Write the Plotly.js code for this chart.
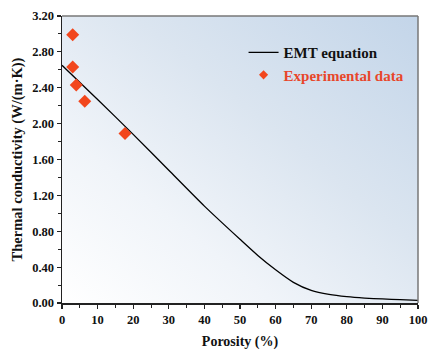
<!DOCTYPE html>
<html><head><meta charset="utf-8">
<script src="https://cdn.plot.ly/plotly-3.0.1.min.js"></script>
<style>
html,body{margin:0;padding:0;background:#fff;}
#wrap{position:relative;width:436px;height:355px;}
#bg{position:absolute;left:62px;top:16px;width:356px;height:287px;
background:linear-gradient(to top right,#ffffff 0%,#f0f4f9 30%,#dbe5f0 60%,#c3d5e9 100%);}
#plot{position:absolute;left:0;top:0;width:436px;height:355px;}
</style></head><body>
<div id="wrap"><div id="bg"></div><div id="plot"></div></div>
<script>
var emtX = [0,10,20,30,40,50,55,60,65,70,75,80,85,90,95,100];
var emtY = [2.65,2.27,1.88,1.48,1.08,0.71,0.53,0.37,0.23,0.14,0.095,0.07,0.055,0.045,0.037,0.03];
var expX = [3.0,3.0,4.0,6.4,17.7];
var expY = [2.99,2.63,2.43,2.25,1.89];
var xTicks = [0,10,20,30,40,50,60,70,80,90,100];
var yTicks = [0,0.4,0.8,1.2,1.6,2.0,2.4,2.8,3.2];

var fam = '"Liberation Serif","Times New Roman",serif';
var font = {family:fam, size:12.5, color:'#111'};
var traces = [
 {x:emtX, y:emtY, mode:'lines', line:{color:'#000', width:1.3, shape:'spline', smoothing:0.6}, name:'<b>EMT equation</b>'},
 {x:expX, y:expY, mode:'markers', marker:{symbol:'diamond', size:10, color:'#f2461c'}, showlegend:false, name:'exp'},
 {x:[null], y:[null], mode:'markers', marker:{symbol:'diamond', size:7, color:'#f2461c'}, name:'<b><span style="color:#e8462a">Experimental data</span></b>'}
];
var layout = {
 width:436, height:355,
 margin:{l:62, r:18, t:16, b:52},
 paper_bgcolor:'rgba(0,0,0,0)', plot_bgcolor:'rgba(0,0,0,0)',
 font:font,
 showlegend:true,
 legend:{x:0.51, y:0.93, xanchor:'left', yanchor:'top', bgcolor:'rgba(0,0,0,0)', font:{family:fam, size:15, color:'#111'}, tracegroupgap:0, itemwidth:30},
 xaxis:{range:[0,100], tickvals:xTicks, ticktext:xTicks.map(function(v){return '<b>'+v+'</b>';}),
   showgrid:false, zeroline:false, showline:true, linecolor:'#222', linewidth:1.5,
   ticks:'outside', ticklen:4, tickwidth:1.2, tickcolor:'#222',
   minor:{dtick:5, ticks:'outside', ticklen:3, tickwidth:1, tickcolor:'#222'},
   title:{text:'<b>Porosity (%)</b>', font:{family:fam, size:14, color:'#111'}, standoff:10}},
 yaxis:{range:[0,3.2], tickvals:yTicks, ticktext:yTicks.map(function(v){return '<b>'+v.toFixed(2)+'</b>';}),
   showgrid:false, zeroline:false, showline:true, linecolor:'#222', linewidth:1.5,
   ticks:'outside', ticklen:4, tickwidth:1.2, tickcolor:'#222',
   minor:{dtick:0.2, ticks:'outside', ticklen:3, tickwidth:1, tickcolor:'#222'},
   title:{text:'<b>Thermal conductivity (W/(m·K))</b>', font:{family:fam, size:14.5, color:'#111'}, standoff:6}},
 shapes:[
  {type:'line', xref:'paper', yref:'paper', x0:0, x1:1, y0:1, y1:1, line:{color:'#777', width:1.5}},
  {type:'line', xref:'paper', yref:'paper', x0:1, x1:1, y0:0, y1:1, line:{color:'#777', width:1.5}}
 ]
};
Plotly.newPlot('plot', traces, layout, {displayModeBar:false, staticPlot:true});
</script>
</body></html>
